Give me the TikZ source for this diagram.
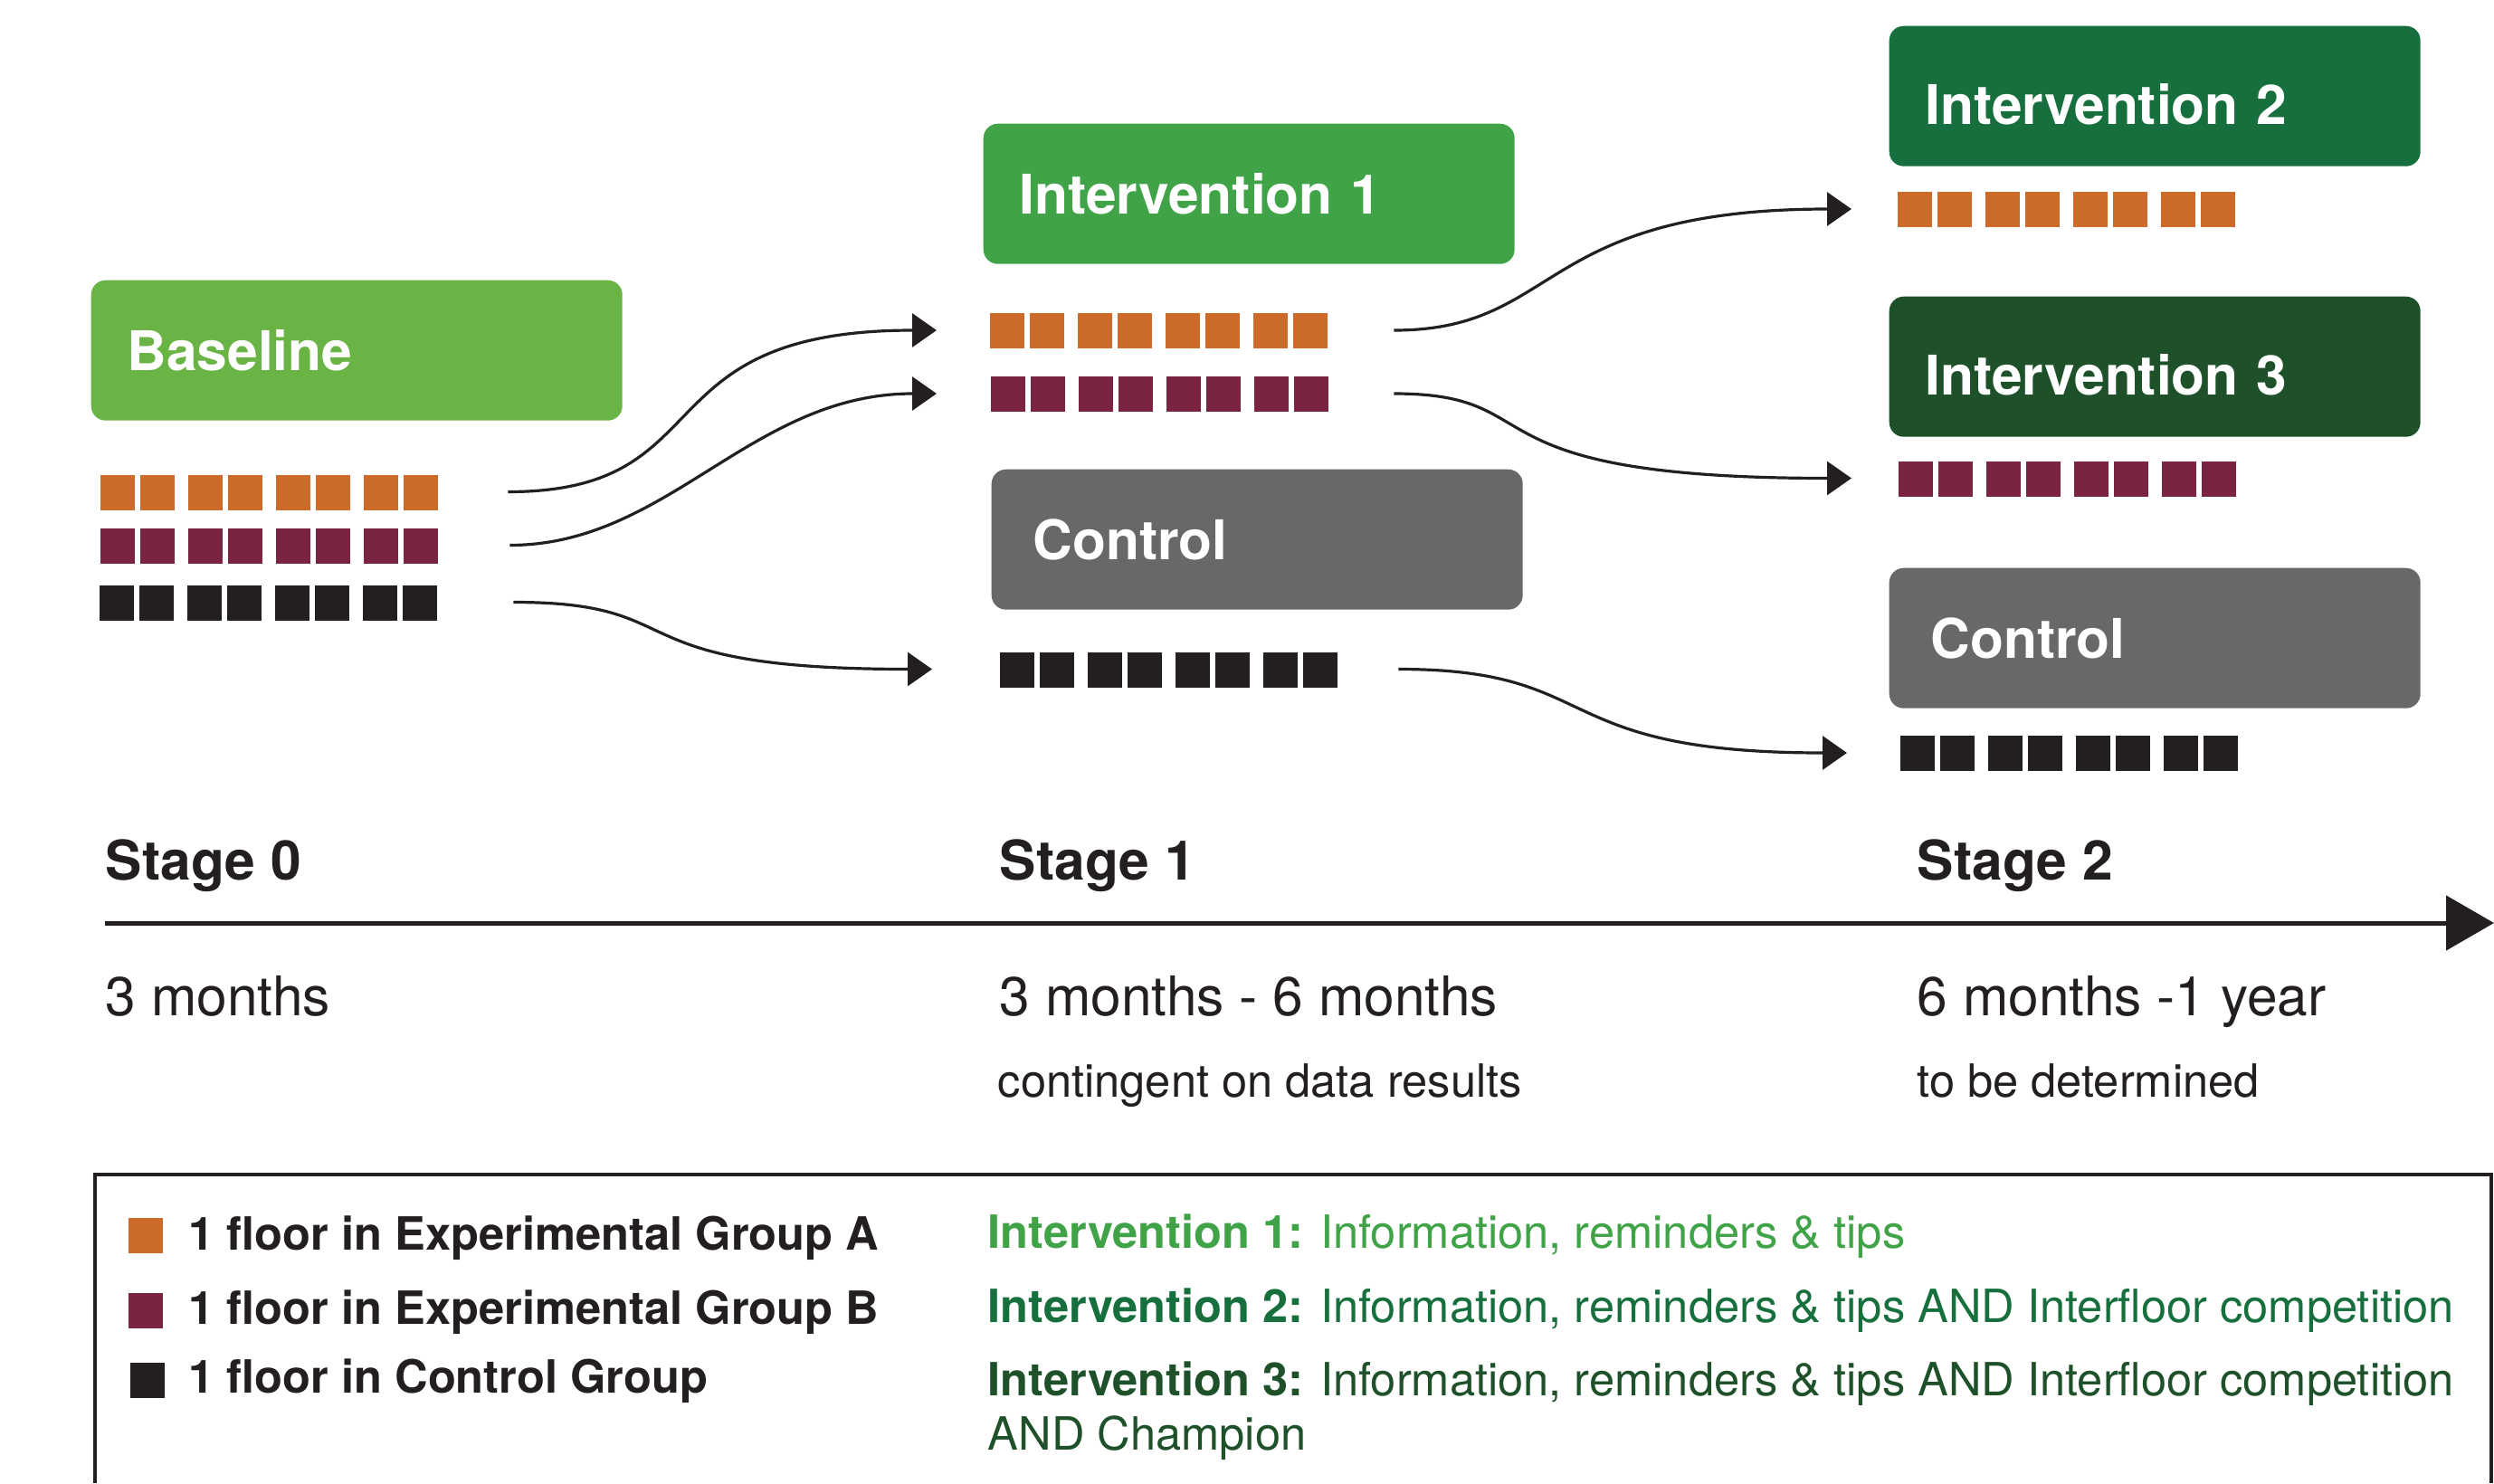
\documentclass[tikz,border=0pt]{standalone}
\usepackage{fontspec}
\setmainfont{TeX Gyre Heros}
\usetikzlibrary{arrows.meta,positioning}
\definecolor{basegreen}{HTML}{6AB345}
\definecolor{infogreen}{HTML}{40A348}
\definecolor{compgreen}{HTML}{166F3D}
\definecolor{champgreen}{HTML}{1E512A}
\definecolor{ctrlgrey}{HTML}{676968}
\definecolor{groupA}{HTML}{CC6A29}
\definecolor{groupB}{HTML}{7B2440}
\definecolor{ink}{HTML}{231F20}
\newcommand{\boxfont}{\fontsize{17.2}{20}\bfseries\selectfont}
\newcommand{\timefont}{\fontsize{17.2}{20}\selectfont}
\newcommand{\notefont}{\fontsize{14.4}{17}\selectfont}
\tikzset{
  stagebox/.style={rounded corners=0.16cm, minimum height=1.55cm, text width=5.07cm,
    inner xsep=0.40cm, inner ysep=0pt, align=left, text=white, font=\boxfont,
    anchor=north west},
  lowtext/.style={text height=18pt, text depth=0pt},
  ctrlbox/.style={stagebox, fill=ctrlgrey, inner xsep=0.46cm, text width=4.95cm},
  floors/.style={minimum width=3.73cm, minimum height=0.39cm, inner sep=0pt, anchor=west},
  flow/.style={draw=ink, line width=0.032cm, -{Triangle[length=0.27cm,width=0.37cm]}},
  timeline/.style={draw=ink, line width=0.05cm, -{Triangle[length=0.53cm,width=0.60cm]}},
  lbl/.style={anchor=base west, inner sep=0pt, text=ink},
  key/.style={minimum width=0.38cm, minimum height=0.39cm, inner sep=0pt, anchor=west},
}
% one row of floors: four pairs of squares
\newcommand{\floorrow}[3]{% name, colour, west end
  \node[floors] (#1) at #3 {};
  \foreach \xo in {0,0.97,1.94,2.91}{
    \fill[#2] ([xshift=\xo cm]#1.south west) rectangle +(0.38,0.39);
    \fill[#2] ([xshift=\xo cm+0.44cm]#1.south west) rectangle +(0.38,0.39);
  }
}

\begin{document}
\begin{tikzpicture}
  \useasboundingbox (0,0) rectangle (27.56,-16.39);

  % stage boxes
  \node[stagebox, fill=basegreen] (base) at (1.00,-3.09) {Baseline};
  \node[stagebox, fill=infogreen] (int1) at (10.86,-1.36) {Intervention 1};
  \node[ctrlbox] (ctrl1) at (10.95,-5.18) {Control};
  \node[stagebox, lowtext, fill=compgreen] (int2) at (20.87,-0.28) {Intervention 2};
  \node[stagebox, lowtext, fill=champgreen] (int3) at (20.87,-3.27) {Intervention 3};
  \node[ctrlbox] (ctrl2) at (20.87,-6.27) {Control};

  % floors per stage
  \floorrow{a0}{groupA}{(1.11,-5.435)}
  \floorrow{b0}{groupB}{(1.11,-6.025)}
  \floorrow{c0}{ink}{(1.10,-6.655)}
  \floorrow{a1}{groupA}{(10.94,-3.65)}
  \floorrow{b1}{groupB}{(10.95,-4.35)}
  \floorrow{c1}{ink}{(11.05,-7.395)}
  \floorrow{a2}{groupA}{(20.97,-2.31)}
  \floorrow{b2}{groupB}{(20.98,-5.285)}
  \floorrow{c2}{ink}{(21.00,-8.32)}

  \draw[flow] ([xshift=0.76cm]a0.east) .. controls +(2.4,0) and +(-3.3,0) .. ([xshift=-0.59cm]a1.west);
  \draw[flow] ([xshift=0.78cm]b0.east) .. controls +(1.75,0) and +(-2.05,0) .. ([xshift=-0.60cm]b1.west);
  \draw[flow] ([xshift=0.83cm]c0.east) .. controls +(2.05,0) and +(-3.6,0) .. ([xshift=-0.75cm]c1.west);
  \draw[flow] ([xshift=0.72cm]a1.east) .. controls +(1.85,0) and +(-3.5,0) .. ([xshift=-0.51cm]a2.west);
  \draw[flow] ([xshift=0.71cm]b1.east) .. controls +(1.8,0) and +(-4.4,0) .. ([xshift=-0.52cm]b2.west);
  \draw[flow] ([xshift=0.66cm]c1.east) .. controls +(2.3,0) and +(-3.35,0) .. ([xshift=-0.59cm]c2.west);

  % time axis
  \coordinate (t0) at (1.16,-10.20);
  \coordinate (t1) at (27.56,-10.20);
  \draw[timeline] (t0) -- (t1);

  \node[lbl, font=\boxfont] (s0) at (1.16,-9.72) {Stage 0};
  \node[lbl, font=\boxfont] (s1) at (11.04,-9.72) {Stage 1};
  \node[lbl, font=\boxfont] (s2) at (21.18,-9.72) {Stage 2};
  \node[lbl, font=\timefont] (d0) at (1.16,-11.22) {3 months};
  \node[lbl, font=\timefont] (d1) at (11.04,-11.22) {3 months - 6 months};
  \node[lbl, font=\timefont] (d2) at (21.18,-11.22) {6 months -1 year};
  \node[lbl, font=\notefont] (n1) at (11.02,-12.12) {contingent on data results};
  \node[lbl, font=\notefont] (n2) at (21.18,-12.12) {to be determined};

  % legend
  \draw[ink, line width=0.035cm] (1.05,-16.39) |- (27.53,-12.98) -- (27.53,-16.39);

  \node[key, fill=groupA] (ka) at (1.41,-13.655) {};
  \node[key, fill=groupB] (kb) at (1.41,-14.485) {};
  \node[key, fill=ink] (kc) at (1.43,-15.255) {};
  \node[lbl, font=\notefont\bfseries] (ta) at (2.08,-13.81) {1 floor in Experimental Group A};
  \node[lbl, font=\notefont\bfseries] (tb) at (2.08,-14.63) {1 floor in Experimental Group B};
  \node[lbl, font=\notefont\bfseries] (tc) at (2.08,-15.39) {1 floor in Control Group};

  \node[lbl, font=\notefont, text=infogreen] (i1) at (10.91,-13.79)
    {\textbf{Intervention 1:} Information, reminders \& tips};
  \node[lbl, font=\notefont, text=compgreen] (i2) at (10.91,-14.61)
    {\textbf{Intervention 2:} Information, reminders \& tips AND Interfloor competition};
  \node[lbl, font=\notefont, text=champgreen] (i3) at (10.91,-15.42)
    {\textbf{Intervention 3:} Information, reminders \& tips AND Interfloor competition};
  \node[lbl, font=\notefont, text=champgreen] (i3b) at (10.91,-16.02) {AND Champion};
\end{tikzpicture}
\end{document}
